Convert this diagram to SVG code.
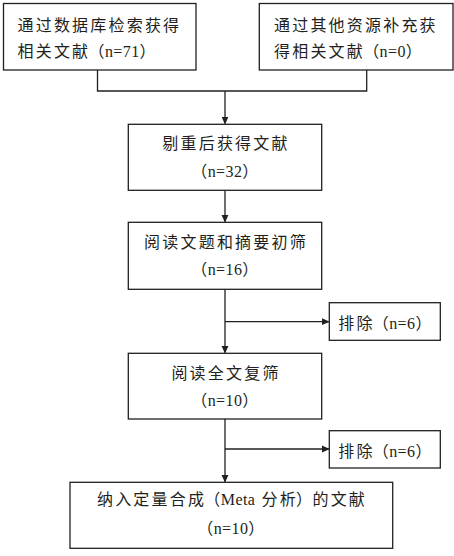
<svg xmlns="http://www.w3.org/2000/svg" width="454" height="556" viewBox="0 0 454 556">
<defs>
<style>
.box{fill:#fff;stroke:#231f20;stroke-width:1.3}
.t{font-family:"Liberation Serif","Noto Sans CJK SC",serif;font-size:16px;fill:#231f20;letter-spacing:2.2px}
.l{letter-spacing:0.4px}
.c{text-anchor:middle}
.ln{fill:none;stroke:#231f20;stroke-width:1.3}
</style>
<marker id="ah" markerWidth="8" markerHeight="8" refX="7" refY="4" orient="auto" markerUnits="userSpaceOnUse">
<path d="M0,0.5 L8,4 L0,7.5 Z" fill="#231f20"/>
</marker>
</defs>
<rect width="454" height="556" fill="#fff"/>
<g id="connectors">
<polyline class="ln" points="97.5,70 97.5,91 366.7,91 366.7,70"/>
<line class="ln" x1="225" y1="91" x2="225" y2="123.5" marker-end="url(#ah)"/>
<line class="ln" x1="225" y1="190.3" x2="225" y2="221.8" marker-end="url(#ah)"/>
<line class="ln" x1="225" y1="289.3" x2="225" y2="352.8" marker-end="url(#ah)"/>
<line class="ln" x1="225" y1="321.7" x2="328.8" y2="321.7" marker-end="url(#ah)"/>
<line class="ln" x1="225" y1="419" x2="225" y2="481.8" marker-end="url(#ah)"/>
<line class="ln" x1="225" y1="449" x2="328.8" y2="449" marker-end="url(#ah)"/>
</g>
<g id="n1">
<rect class="box" x="3.5" y="3.5" width="192.5" height="66.5"/>
<text class="t" x="17.5" y="31">通过数据库检索获得</text>
<text class="t" x="17.5" y="57">相关文<tspan class="l">献（n=71）</tspan></text>
</g>
<g id="n2">
<rect class="box" x="259.3" y="3.5" width="193.7" height="66.5"/>
<text class="t" x="274" y="31">通过其他资源补充获</text>
<text class="t" x="274" y="57">得相关文<tspan class="l">献（n=0）</tspan></text>
</g>
<g id="n3">
<rect class="box" x="128.3" y="124.3" width="193.4" height="66"/>
<text class="t c" x="226" y="149">剔重后获得文献</text>
<text class="t c l" x="225" y="177">（n=32）</text>
</g>
<g id="n4">
<rect class="box" x="128.3" y="222.3" width="193.4" height="67"/>
<text class="t c" x="226" y="248">阅读文题和摘要初筛</text>
<text class="t c l" x="225" y="275">（n=16）</text>
</g>
<g id="x1">
<rect class="box" x="329.3" y="302.7" width="111" height="37.6"/>
<text class="t c" x="385" y="329">排<tspan class="l">除（n=6）</tspan></text>
</g>
<g id="n5">
<rect class="box" x="128.3" y="353.3" width="193.4" height="65.7"/>
<text class="t c" x="226" y="379">阅读全文复筛</text>
<text class="t c l" x="225" y="406">（n=10）</text>
</g>
<g id="x2">
<rect class="box" x="329.3" y="430.7" width="111" height="37.3"/>
<text class="t c" x="385" y="457">排<tspan class="l">除（n=6）</tspan></text>
</g>
<g id="n6">
<rect class="box" x="70" y="482.3" width="322.7" height="66"/>
<text class="t c" x="232" y="505">纳入定量合<tspan class="l">成（Meta</tspan> 分<tspan class="l">析）</tspan>的文献</text>
<text class="t c l" x="231" y="534">（n=10）</text>
</g>
</svg>
